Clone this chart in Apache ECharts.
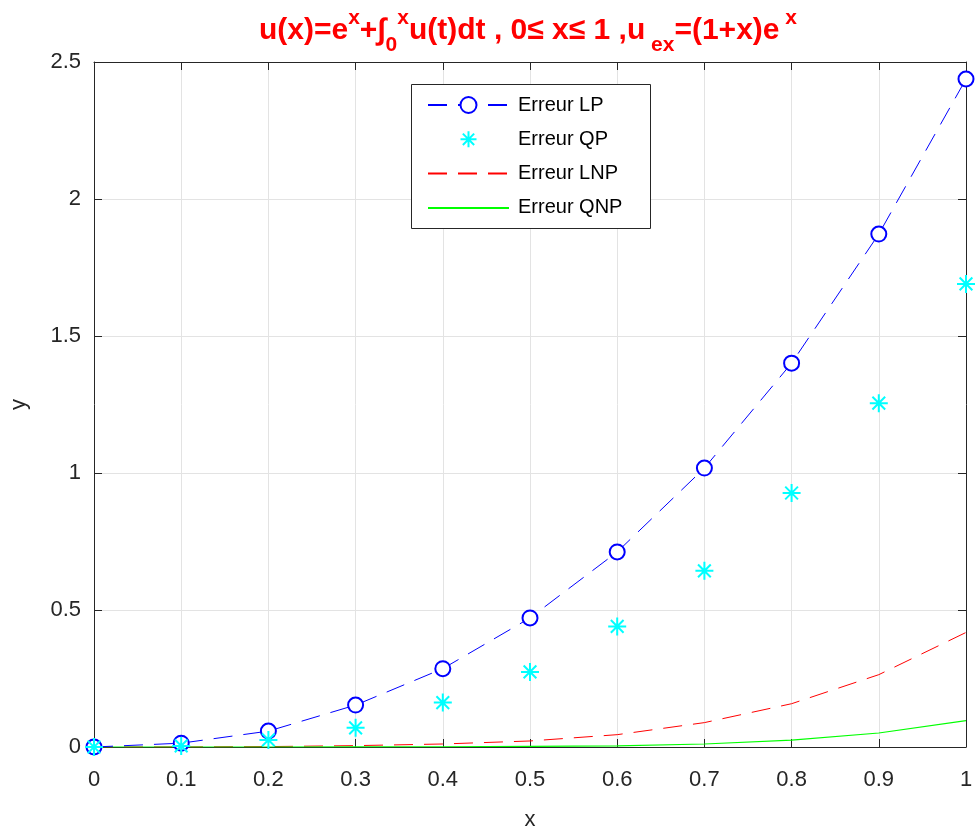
<!DOCTYPE html>
<html>
<head>
<meta charset="utf-8">
<script src="https://cdn.jsdelivr.net/npm/echarts@6/dist/echarts.min.js"></script>
<style>
  html, body { margin: 0; padding: 0; background: #fff; }
  #chart { width: 977px; height: 836px; }
</style>
</head>
<body>
<div id="chart"></div>
<script>
// Abscissae of the discretisation 0 <= x <= 1
const xValues = [0, 0.1, 0.2, 0.3, 0.4, 0.5, 0.6, 0.7, 0.8, 0.9, 1.0];

// Errors of the four methods at each abscissa
const errLP  = [0, 0.014, 0.058, 0.153, 0.286, 0.471, 0.712, 1.018, 1.401, 1.872, 2.438];
const errQP  = [0, 0.004, 0.026, 0.070, 0.162, 0.274, 0.440, 0.643, 0.927, 1.255, 1.690];
const errLNP = [0, 0.0002, 0.0015, 0.005, 0.011, 0.022, 0.045, 0.089, 0.158, 0.264, 0.418];
const errQNP = [0, 0, 0, 0.0005, 0.001, 0.002, 0.004, 0.011, 0.025, 0.051, 0.096];

const seriesNames = ['Erreur LP', 'Erreur QP', 'Erreur LNP', 'Erreur QNP'];

const xTicks = { min: 0, max: 1, step: 0.1 };
const yTicks = { min: 0, max: 2.5, step: 0.5 };

const pairs = (ys) => xValues.map((x, i) => [x, ys[i]]);

const FONT = "'Liberation Sans', Arial, Helvetica, sans-serif";
const AXIS_COLOR = '#262626';
const GRID_COLOR = '#e3e3e3';

const asterisk = 'path://M0,-10L0,10M-10,0L10,0M-7.07,-7.07L7.07,7.07M-7.07,7.07L7.07,-7.07';

const chart = echarts.init(document.getElementById('chart'));

// Box edges on top and right: ticks only, no labels
const mirrorAxis = {
  axisLine: { show: true, onZero: false, lineStyle: { color: AXIS_COLOR, width: 1 } },
  axisTick: { show: true, inside: true, length: 8, lineStyle: { color: AXIS_COLOR } },
  axisLabel: { show: false },
  splitLine: { show: false }
};

const titleFont = { fontFamily: FONT, fontWeight: 'bold', color: '#ff0000' };

chart.setOption({
  animation: false,
  backgroundColor: '#ffffff',
  title: {
    left: 528,
    top: 3,
    textAlign: 'center',
    padding: 0,
    text: '{b|u(x)=e}{sup|x}{b|+∫}{sub|0}{sup|x}{b|u(t)dt , 0≤ x≤ 1 ,u}{sub| ex}{b|=(1+x)e}{sup| x}',
    textStyle: {
      rich: {
        b:   Object.assign({ fontSize: 30, lineHeight: 55, verticalAlign: 'middle' }, titleFont),
        sup: Object.assign({ fontSize: 21, lineHeight: 39, verticalAlign: 'top', padding: [5, 0, 0, 0] }, titleFont),
        sub: Object.assign({ fontSize: 21, lineHeight: 29, verticalAlign: 'bottom', padding: [0, 0, 2, 0] }, titleFont)
      }
    }
  },
  graphic: [
    {
      type: 'rect',
      z: 5,
      shape: { x: 411.5, y: 84.5, width: 239, height: 144 },
      style: { fill: '#ffffff', stroke: AXIS_COLOR, lineWidth: 1 }
    }
  ],
  legend: {
    z: 6,
    orient: 'vertical',
    left: 427,
    top: 95,
    padding: 0,
    itemWidth: 81,
    itemHeight: 20,
    itemGap: 14.3,
    data: [
      { name: seriesNames[0] },
      { name: seriesNames[1] },
      { name: seriesNames[2], itemStyle: { opacity: 0 } },
      { name: seriesNames[3], itemStyle: { opacity: 0 } }
    ],
    textStyle: { fontFamily: FONT, fontSize: 20, color: '#000000', padding: [0, 0, 0, 4] }
  },
  grid: { left: 93, right: 11, top: 62, bottom: 89, containLabel: false },
  xAxis: [
    {
      type: 'value',
      min: xTicks.min, max: xTicks.max, interval: xTicks.step,
      name: 'x',
      nameLocation: 'middle',
      nameGap: 62,
      nameTextStyle: { fontFamily: FONT, fontSize: 22, color: AXIS_COLOR },
      axisLine: { show: true, onZero: false, lineStyle: { color: AXIS_COLOR, width: 1 } },
      axisTick: { show: true, inside: true, length: 8, lineStyle: { color: AXIS_COLOR } },
      axisLabel: { fontFamily: FONT, fontSize: 22, color: AXIS_COLOR, margin: 22 },
      splitLine: { show: true, lineStyle: { color: GRID_COLOR, width: 1 } }
    },
    Object.assign({ type: 'value', position: 'top', min: xTicks.min, max: xTicks.max, interval: xTicks.step }, mirrorAxis)
  ],
  yAxis: [
    {
      type: 'value',
      min: yTicks.min, max: yTicks.max, interval: yTicks.step,
      name: 'y',
      nameLocation: 'middle',
      nameGap: 64,
      nameRotate: 90,
      nameTextStyle: { fontFamily: FONT, fontSize: 22, color: AXIS_COLOR },
      axisLine: { show: true, onZero: false, lineStyle: { color: AXIS_COLOR, width: 1 } },
      axisTick: { show: true, inside: true, length: 8, lineStyle: { color: AXIS_COLOR } },
      axisLabel: { fontFamily: FONT, fontSize: 22, color: AXIS_COLOR, margin: 13 },
      splitLine: { show: true, lineStyle: { color: GRID_COLOR, width: 1 } }
    },
    Object.assign({ type: 'value', position: 'right', min: yTicks.min, max: yTicks.max, interval: yTicks.step }, mirrorAxis)
  ],
  series: [
    {
      name: seriesNames[0],
      type: 'line',
      data: pairs(errLP),
      symbol: 'emptyCircle',
      symbolSize: 15,
      itemStyle: { color: '#0000ff', borderColor: '#0000ff', borderWidth: 1.6 },
      lineStyle: { color: '#0000ff', width: 1, type: [19, 11] },
      z: 3
    },
    {
      name: seriesNames[1],
      type: 'line',
      data: pairs(errQP),
      symbol: asterisk,
      symbolSize: 18,
      itemStyle: { color: 'rgba(0,0,0,0)', borderColor: '#00ffff', borderWidth: 2 },
      lineStyle: { color: 'rgba(0,0,0,0)', width: 0, opacity: 0 },
      z: 4
    },
    {
      name: seriesNames[2],
      type: 'line',
      data: pairs(errLNP),
      symbol: 'none',
      itemStyle: { color: '#ff0000' },
      lineStyle: { color: '#ff0000', width: 1, type: [19, 11] },
      z: 2
    },
    {
      name: seriesNames[3],
      type: 'line',
      data: pairs(errQNP),
      symbol: 'none',
      itemStyle: { color: '#00ff00' },
      lineStyle: { color: '#00ff00', width: 1.2 },
      z: 2
    }
  ]
});
</script>
</body>
</html>
